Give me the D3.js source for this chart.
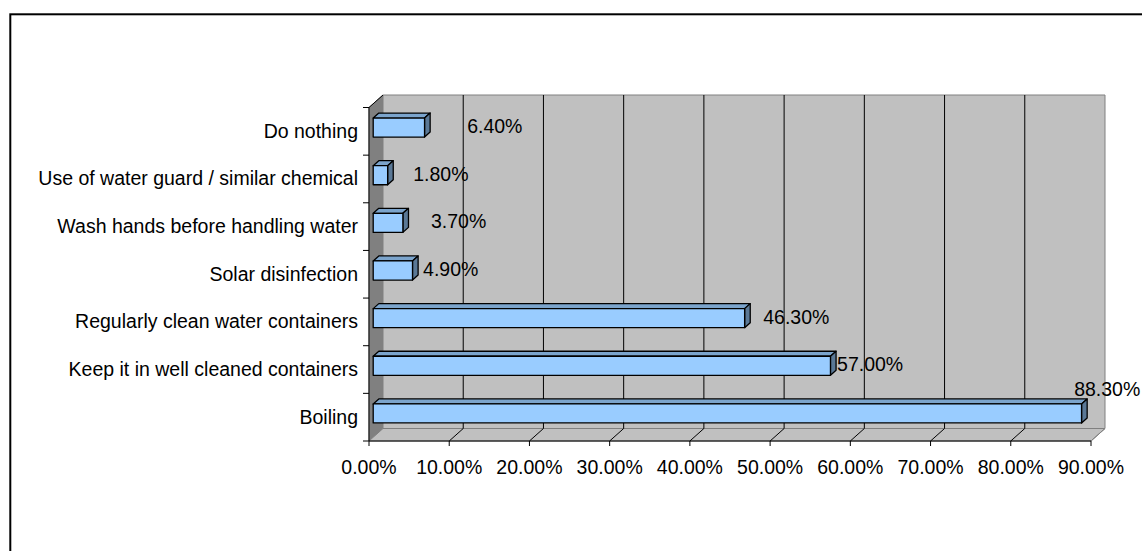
<!DOCTYPE html>
<html><head><meta charset="utf-8">
<script src="https://cdn.jsdelivr.net/npm/d3@7"></script>
<style>html,body{margin:0;padding:0;background:#fff;}svg{display:block;font-family:"Liberation Sans",Arial,sans-serif;}</style>
</head><body>
<svg id="c" width="1142" height="551"></svg>
<script>
const categories = ["Do nothing","Use of water guard / similar chemical","Wash hands before handling water","Solar disinfection","Regularly clean water containers","Keep it in well cleaned containers","Boiling"];
const values = [6.4, 1.8, 3.7, 4.9, 46.3, 57.0, 88.3];
const valueLabels = ["6.40%","1.80%","3.70%","4.90%","46.30%","57.00%","88.30%"];
const xTicks = [0,10,20,30,40,50,60,70,80,90];
const xTickLabels = ["0.00%","10.00%","20.00%","30.00%","40.00%","50.00%","60.00%","70.00%","80.00%","90.00%"];
// Excel's quirky data-label nudges (layout)
const labelNudgeX = [37, 20, 22.5, 5, 13, 1, -13];
const labelNudgeY = [0, 0, 0, 0, 0, 0, -23];

const svg = d3.select("#c");
const FS = 19.5;
const x = d3.scaleLinear().domain([0,90]).range([369,1091]);
const y = d3.scaleBand().domain(categories).range([107.5,441]).paddingInner(0).paddingOuter(0);
const D = [14,-12.5]; // depth vector
const yTop = y.range()[0], yBot = y.range()[1];
const x0 = x(0), x1 = x(90);
const pt = (a,b)=>a+","+b;

// outer border
svg.append("rect").attr("x",10.3).attr("y",14.3).attr("width",1200).attr("height",600)
  .attr("fill","none").attr("stroke","#000").attr("stroke-width",2);

// left wall
svg.append("polygon").attr("points",[pt(x0,yTop),pt(x0+D[0],yTop+D[1]),pt(x0+D[0],yBot+D[1]),pt(x0,yBot)].join(" "))
  .attr("fill","#808080").attr("stroke","#808080");
// back wall
svg.append("polygon").attr("points",[pt(x0+D[0],yTop+D[1]),pt(x1+D[0],yTop+D[1]),pt(x1+D[0],yBot+D[1]),pt(x0+D[0],yBot+D[1])].join(" "))
  .attr("fill","#C0C0C0").attr("stroke","#808080");
// floor
svg.append("polygon").attr("points",[pt(x0,yBot),pt(x0+D[0],yBot+D[1]),pt(x1+D[0],yBot+D[1]),pt(x1,yBot)].join(" "))
  .attr("fill","#C0C0C0").attr("stroke","#808080");

// gridlines (back wall + floor)
const grid = svg.append("g").attr("stroke","#000").attr("stroke-width",1).attr("fill","none");
xTicks.filter(t=>t>0 && t<90).forEach(t=>{
  const bx = x(t)+D[0];
  grid.append("polyline").attr("points",[pt(bx,yTop+D[1]),pt(bx,yBot+D[1]),pt(x(t),yBot)].join(" "));
});
grid.append("line").attr("x1",x(90)+D[0]).attr("y1",yBot+D[1]).attr("x2",x(90)).attr("y2",yBot).attr("stroke","#808080");

// axes lines
svg.append("line").attr("x1",x0).attr("y1",yBot).attr("x2",x1).attr("y2",yBot).attr("stroke","#000");
svg.append("line").attr("x1",x0).attr("y1",yTop).attr("x2",x0).attr("y2",yBot).attr("stroke","#000");
svg.append("line").attr("x1",x0).attr("y1",yTop).attr("x2",x0+D[0]).attr("y2",yTop+D[1]).attr("stroke","#000");

// x ticks & labels
const xa = svg.append("g");
xTicks.forEach((t,i)=>{
  xa.append("line").attr("x1",x(t)).attr("x2",x(t)).attr("y1",yBot).attr("y2",yBot+5).attr("stroke","#000");
  xa.append("text").attr("x",x(t)).attr("y",473.5).attr("text-anchor","middle")
    .attr("font-size",FS).attr("fill","#000").text(xTickLabels[i]);
});

// y ticks & labels
const ya = svg.append("g");
const bounds = categories.map(c=>y(c)).concat([yBot]);
bounds.forEach(b=>{
  ya.append("line").attr("x1",x0-6).attr("x2",x0).attr("y1",b).attr("y2",b).attr("stroke","#000");
});
categories.forEach(c=>{
  ya.append("text").attr("x",358).attr("y",y(c)+y.bandwidth()/2+6.5).attr("text-anchor","end")
    .attr("font-size",FS).attr("fill","#000").text(c);
});

// bars
const fD = 0.3, bD = 0.7;
const bh = y.bandwidth()*0.4;
const bars = svg.append("g").attr("stroke","#000").attr("stroke-width",1.3).attr("stroke-linejoin","round");
categories.forEach((c,i)=>{
  const v = values[i];
  const cy = y(c)+y.bandwidth()/2;
  const fx0 = x(0)+D[0]*fD, fx1 = x(v)+D[0]*fD;
  const fy0 = cy+D[1]*fD - bh/2, fy1 = cy+D[1]*fD + bh/2;
  const ox = D[0]*(bD-fD), oy = D[1]*(bD-fD);
  // top face
  bars.append("polygon").attr("points",[pt(fx0,fy0),pt(fx0+ox,fy0+oy),pt(fx1+ox,fy0+oy),pt(fx1,fy0)].join(" "))
    .attr("fill","#7BA4CC");
  // side face
  bars.append("polygon").attr("points",[pt(fx1,fy0),pt(fx1+ox,fy0+oy),pt(fx1+ox,fy1+oy),pt(fx1,fy1)].join(" "))
    .attr("fill","#5A7896");
  // front face
  bars.append("rect").attr("x",fx0).attr("y",fy0).attr("width",fx1-fx0).attr("height",bh)
    .attr("fill","#99CCFF");
  // label
  svg.append("text").attr("x",fx1+ox+labelNudgeX[i]).attr("y",cy+D[1]*fD+5.5+labelNudgeY[i])
    .attr("font-size",FS).attr("fill","#000").text(valueLabels[i]);
});
</script>
</body></html>
